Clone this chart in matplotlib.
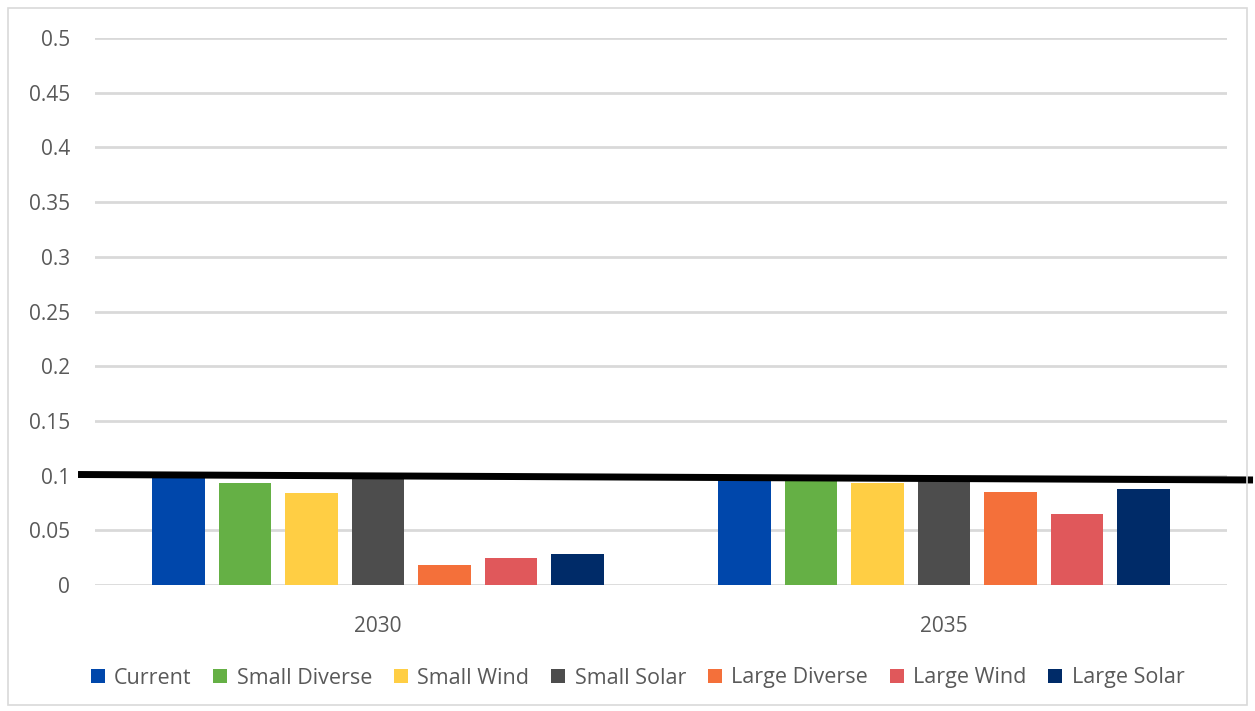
import numpy as np
import matplotlib.pyplot as plt
from matplotlib.patches import Rectangle

plt.rcParams['font.family'] = ['Open Sans', 'DejaVu Sans']

years = ['2030', '2035']
series = ['Current', 'Small Diverse', 'Small Wind', 'Small Solar',
          'Large Diverse', 'Large Wind', 'Large Solar']
values = {
    'Current':       [0.100, 0.097],
    'Small Diverse': [0.093, 0.097],
    'Small Wind':    [0.084, 0.093],
    'Small Solar':   [0.100, 0.097],
    'Large Diverse': [0.018, 0.085],
    'Large Wind':    [0.025, 0.065],
    'Large Solar':   [0.028, 0.088],
}
colors = ['#0047AB', '#65B045', '#FFCE44', '#4D4D4D', '#F4703A', '#E0585B', '#002B68']
yticks = [0, 0.05, 0.1, 0.15, 0.2, 0.25, 0.3, 0.35, 0.4, 0.45, 0.5]
ytick_labels = ['0', '0.05', '0.1', '0.15', '0.2', '0.25', '0.3', '0.35', '0.4', '0.45', '0.5']

# hand drawn threshold line (axes-fraction x, data y)
line_x = [-0.015, 1.023]
line_y = [0.101, 0.096]

text_color = '#595959'
grid_color = '#D9D9D9'

fig = plt.figure(figsize=(12.55, 7.11), dpi=100)
ax = fig.add_axes([95 / 1255, 1 - 585 / 711, 1132 / 1255, 547 / 711])

x = np.arange(len(years))
slot = 0.1175
width = 0.092
for i, name in enumerate(series):
    offs = (i - (len(series) - 1) / 2) * slot
    ax.bar(x + offs, values[name], width, color=colors[i], label=name, zorder=2)

ax.set_xlim(-0.5, len(years) - 0.5)
ax.set_ylim(0, 0.5)
ax.set_yticks(yticks)
ax.set_yticklabels(ytick_labels)
ax.set_xticks(x)
ax.set_xticklabels(years)
ax.grid(axis='y', color=grid_color, linewidth=2, zorder=0)
ax.set_axisbelow(True)
for s in ax.spines.values():
    s.set_visible(False)
ax.tick_params(axis='both', length=0, labelsize=15, colors=text_color)
ax.tick_params(axis='y', pad=18)
ax.tick_params(axis='x', pad=22)

ax.plot(line_x, line_y, color='black', linewidth=5, solid_capstyle='butt',
        transform=ax.get_yaxis_transform(), clip_on=False, zorder=5)

leg = fig.legend(loc='center', bbox_to_anchor=(0.508, 1 - 678 / 711), ncol=7,
                 frameon=False, fontsize=15.5, handlelength=0.65, handleheight=0.65,
                 handletextpad=0.45, columnspacing=1.0)
for t in leg.get_texts():
    t.set_color(text_color)

fig.patches.append(Rectangle((8 / 1255, 6 / 711), 1 - 16 / 1255, 1 - 14 / 711,
                             transform=fig.transFigure, fill=False,
                             edgecolor='#D9D9D9', linewidth=1.2))

fig.savefig('out.png', dpi=100)
